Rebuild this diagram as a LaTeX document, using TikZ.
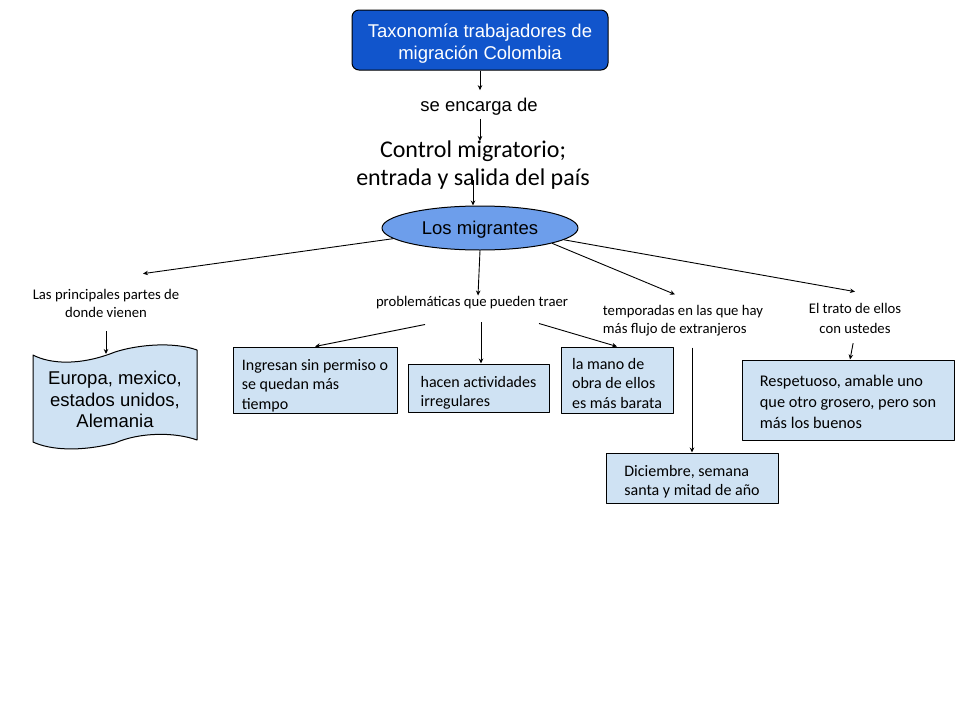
\documentclass[tikz,border=0pt]{standalone}
\usepackage{fontspec}
\setmainfont{Carlito}
\newfontfamily\arialfont{Liberation Sans}
\usetikzlibrary{arrows.meta,shapes.geometric}

\definecolor{titleblue}{HTML}{1155CC}
\definecolor{ovalblue}{HTML}{6D9EEB}
\definecolor{paleblue}{HTML}{CFE2F3}

\begin{document}
\begin{tikzpicture}[x=1pt,y=-1pt,line join=round,
  link/.style={-{Stealth[length=5pt,width=4.5pt]},line width=0.9pt},
  heading/.style={draw=black,line width=1pt,fill=titleblue,text=white,rounded corners=7pt,
    minimum width=256pt,minimum height=60pt,align=center,
    font=\arialfont\fontsize{18.5}{22}\selectfont},
  phrase/.style={inner sep=0pt,align=center,font=\fontsize{14.7}{18}\selectfont},
  infobox/.style={draw=black,line width=1pt,fill=paleblue,inner sep=0pt,align=left,
    font=\fontsize{16}{19.5}\selectfont}]

  % invisible strut for the first line of a box, pushes its text down
  \def\lead#1{\rule{0pt}{#1pt}}

  % the page is 960 x 720, y runs downwards
  \useasboundingbox (0,0) rectangle (960,720);

  % top of the map: title, link phrase and the central oval
  \node[heading] (title) at (480,40) {\lead{21}Taxonomía trabajadores de\\migración Colombia};
  \node[inner sep=3pt,font=\arialfont\fontsize{18.5}{22}\selectfont] (encarga) at (479,107) {se encarga de};
  \node[inner sep=0pt,align=center,font=\fontsize{24}{28}\selectfont] (control) at (473,165.5)
    {Control migratorio;\\entrada y salida del país};
  \node[ellipse,draw=black,line width=1pt,fill=ovalblue,minimum width=196pt,minimum height=44pt,
    inner sep=0pt,text depth=0pt,font=\arialfont\fontsize{18.5}{22}\selectfont] (migr) at (480,228)
    {Los migrantes};

  \draw[link,shorten >=5pt] (title.south) -- (title.south |- encarga.north);
  \draw[link] (title.south |- encarga.south) -- (title.south |- control.north);
  \draw[link,shorten <=-10pt] (control.south) -- (control.south |- migr.north);

  % the four branch phrases under the oval
  \node[phrase] (origen) at (106,303) {Las principales partes de\\donde vienen};
  \node[phrase] (probl) at (472,303) {problemáticas que pueden traer};
  \node[phrase,align=left] (tempo) at (683,321) {temporadas en las que hay\\más flujo de extranjeros};
  \node[phrase,font=\fontsize{14.7}{20}\selectfont] (trato) at (855,318) {El trato de ellos\\con ustedes};

  \draw[link] (migr.187) -- ([xshift=37pt,yshift=15pt]origen.north);
  \draw[link] (migr.south) -- ([xshift=6pt,yshift=1pt]probl.north);
  \draw[link] (migr.348) -- ([xshift=-8pt,yshift=11pt]tempo.north);
  \draw[link] (migr.352) -- ([yshift=11pt]trato.north);

  % where they come from: punched tape, drawn as a path
  \draw[line width=1pt,fill=paleblue]
    (33,355) .. controls (50,364) and (80,366) .. (115,352)
             .. controls (140,344) and (175,342) .. (197,350)
    -- (197,440) .. controls (175,432) and (140,432) .. (115,443)
                 .. controls (80,452) and (50,450) .. (33,442) -- cycle;
  \node[inner sep=0pt,align=center,font=\arialfont\fontsize{18.5}{21.5}\selectfont] (paises)
    at (115,399.5) {Europa, mexico,\\estados unidos,\\Alemania};
  \draw[link,shorten <=14pt,shorten >=17pt] (origen.south) -- (origen.south |- paises.north);

  % problems they can bring
  \node[infobox,minimum width=164pt,minimum height=66pt] (permiso) at (315,380)
    {\lead{22}Ingresan sin permiso o\\se quedan más\\tiempo};
  \node[infobox,minimum width=141pt,minimum height=48pt] (activ) at (478.5,388)
    {\lead{21}hacen actividades\\irregulares};
  \node[infobox,minimum width=112pt,minimum height=66pt] (obra) at (617,380)
    {\lead{18}la mano de\\obra de ellos\\es más barata};
  \draw[link] ([xshift=-47pt,yshift=-15pt]probl.south) -- (permiso.north);
  \draw[link] ([xshift=9pt,yshift=-13pt]probl.south) -- ([xshift=2.5pt]activ.north);
  \draw[link] ([xshift=67pt,yshift=-14pt]probl.south) -- (obra.north);

  % seasons with more foreigners
  \node[infobox,minimum width=172pt,minimum height=50pt] (fechas) at (692,478)
    {\lead{19}Diciembre, semana\\santa y mitad de año};
  \draw[link,shorten <=11pt] (tempo.south -| fechas.north) -- (fechas.north);

  % how they treat you
  \node[infobox,minimum width=212pt,minimum height=80pt,font=\fontsize{16.3}{21}\selectfont]
    (respeto) at (848,400)
    {\lead{15.5}Respetuoso, amable uno\\que otro grosero, pero son\\más los buenos};
  \draw[link,shorten <=10pt] (trato.south) -- ([xshift=2pt]respeto.north);

\end{tikzpicture}
\end{document}
